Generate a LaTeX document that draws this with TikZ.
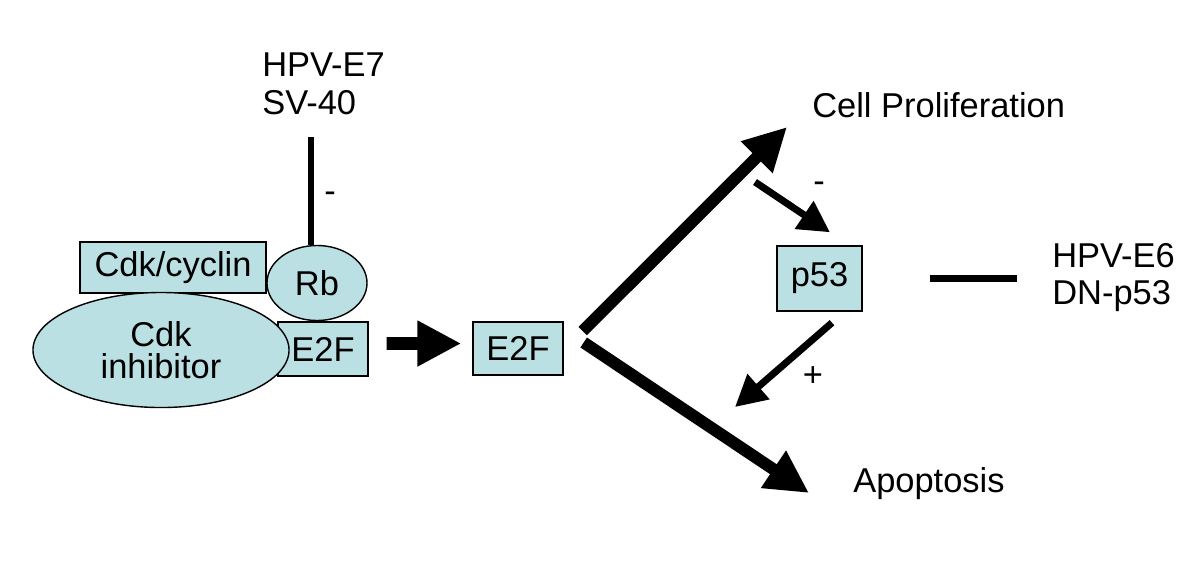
\documentclass[tikz,border=0pt]{standalone}
\usepackage{fontspec}
\setmainfont{Liberation Sans}
\usetikzlibrary{arrows.meta,shapes.geometric}
\definecolor{protfill}{RGB}{187,224,227}
\begin{document}
\begin{tikzpicture}[x=0.025cm, y=-0.025cm,
    font=\fontsize{24.5}{26.5}\selectfont,
    prot/.style={draw=black, line width=1pt, fill=protfill, inner sep=0pt},
    box/.style={prot, rectangle},
    blob/.style={prot, ellipse},
    inhib/.style={line width=4.8pt},
    bigarrow/.style={line width=8.5pt, -{Triangle[length=1.07cm, width=1.05cm]}},
    midarrow/.style={line width=9.2pt, -{Triangle[length=1.1cm, width=1.075cm]}},
    smallarrow/.style={line width=5pt, -{Triangle[length=0.78cm, width=0.8cm]}},
    sign/.style={inner sep=0pt}]
  \useasboundingbox (0,0) rectangle (1200,561);
  \node[box, minimum width=4.65cm, minimum height=1.275cm] (cdkcyc) at (173,267.5) {Cdk/cyclin};
  \node[box, minimum width=2.25cm, minimum height=1.35cm] (e2fa) at (323,349) {E2F};
  \node[blob, minimum width=2.5cm, minimum height=1.875cm] (rb) at (317,283) {Rb};
  \node[blob, minimum width=6.4cm, minimum height=2.875cm, align=center, font=\fontsize{24.5}{22.5}\selectfont] (cdkinh) at (161,350) {Cdk\\inhibitor};
  \node[box, minimum width=2.25cm, minimum height=1.325cm] (e2fb) at (518,348.5) {E2F};
  \node[box, minimum width=2.125cm, minimum height=1.625cm] (p53) at (819.5,278.5) {p53};
  \node[anchor=west, align=left, inner sep=0pt] (hpve7) at (262,83.7) {HPV-E7\\SV-40};
  \node[anchor=west, align=left, inner sep=0pt] (hpve6) at (1052,277.4) {HPV-E6\\DN-p53};
  \node[anchor=base west, inner sep=0pt] (prolif) at (812,117) {Cell Proliferation};
  \node[anchor=base west, inner sep=0pt] (apopt) at (853,492) {Apoptosis};
  \coordinate (e7end) at (311,137);
  \coordinate (negstart) at (755,182);
  \coordinate (posend) at (735,407);
  \draw[inhib] (e7end) -- (e7end |- rb.north);
  \node[sign] (rbminus) at (330,197) {-};
  \draw[midarrow] ([shift={(18,-5.5)}]e2fa.east) -- ([shift={(-11,-5)}]e2fb.west);
  \draw[bigarrow] ([shift={(19,-17.5)}]e2fb.east) -- ([shift={(-25,10)}]prolif.base west);
  \draw[bigarrow] ([shift={(20,-6)}]e2fb.east) -- ([shift={(-44,1)}]apopt.base west);
  \draw[smallarrow] (negstart) -- ([shift={(10.5,-13)}]p53.north);
  \node[sign] (p53minus) at (819,187) {-};
  \draw[smallarrow] ([shift={(12.5,11)}]p53.south) -- (posend);
  \node[sign] (p53plus) at (813,377) {+};
  \draw[inhib] ([xshift=1.675cm]p53.east) -- ([xshift=-0.875cm]p53.east -| hpve6.west);
\end{tikzpicture}
\end{document}
